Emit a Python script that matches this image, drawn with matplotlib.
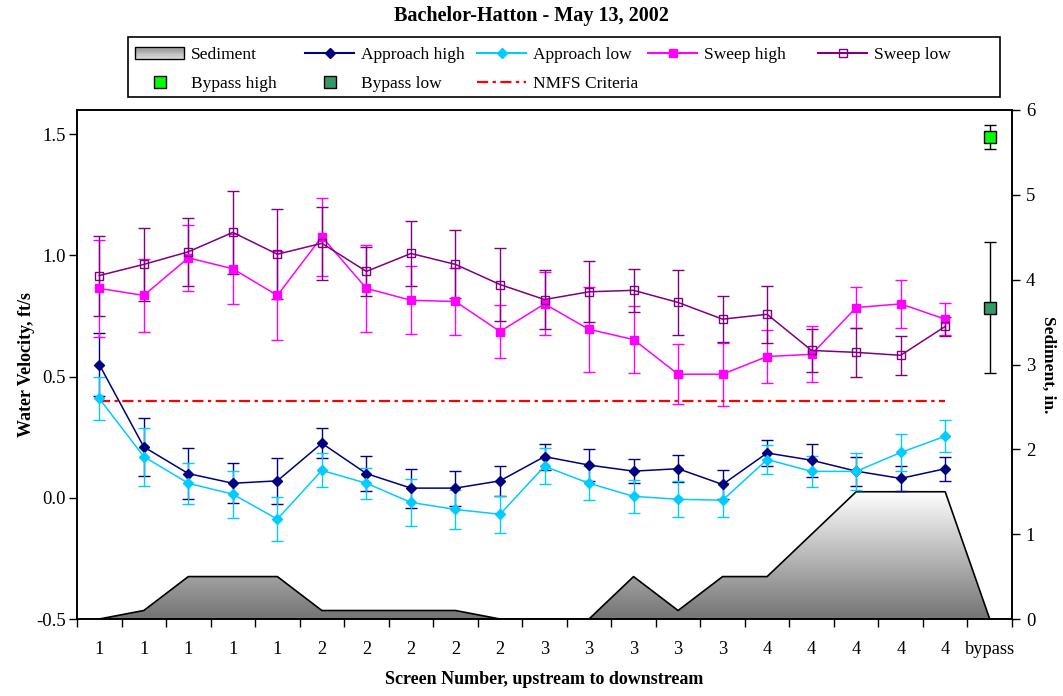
import numpy as np
import matplotlib.pyplot as plt
from matplotlib.lines import Line2D
from matplotlib.patches import Rectangle, Patch
from matplotlib.colors import LinearSegmentedColormap
from matplotlib.legend_handler import HandlerBase

plt.rcParams['font.family'] = ['Liberation Serif', 'DejaVu Serif']

# screens 1-20 plus bypass
screen_labels = ['1'] * 5 + ['2'] * 5 + ['3'] * 5 + ['4'] * 5 + ['bypass']

sediment = [0, 0.1, 0.5, 0.5, 0.5, 0.1, 0.1, 0.1, 0.1, 0, 0, 0, 0.5, 0.1, 0.5, 0.5, 1.0, 1.5, 1.5, 1.5, 0]

approach_high = [0.55, 0.21, 0.10, 0.06, 0.07, 0.225, 0.10, 0.04, 0.04, 0.07,
                 0.17, 0.135, 0.11, 0.12, 0.055, 0.185, 0.155, 0.11, 0.08, 0.12]
approach_high_err = [0.13, 0.12, 0.105, 0.083, 0.095, 0.062, 0.072, 0.08, 0.072, 0.062,
                     0.054, 0.066, 0.05, 0.055, 0.06, 0.055, 0.068, 0.06, 0.05, 0.05]

approach_low = [0.41, 0.17, 0.06, 0.015, -0.088, 0.113, 0.06, -0.019, -0.048, -0.068,
                0.13, 0.06, 0.006, -0.006, -0.01, 0.158, 0.109, 0.109, 0.187, 0.254]
approach_low_err = [0.09, 0.12, 0.085, 0.097, 0.09, 0.07, 0.065, 0.098, 0.08, 0.076,
                    0.075, 0.07, 0.068, 0.075, 0.07, 0.06, 0.065, 0.075, 0.075, 0.065]

sweep_high = [0.864, 0.835, 0.99, 0.945, 0.835, 1.077, 0.864, 0.815, 0.81, 0.686,
              0.80, 0.695, 0.653, 0.51, 0.51, 0.583, 0.592, 0.785, 0.80, 0.737]
sweep_high_err = [0.2, 0.15, 0.135, 0.145, 0.185, 0.16, 0.18, 0.14, 0.14, 0.108,
                  0.13, 0.175, 0.14, 0.125, 0.13, 0.11, 0.115, 0.085, 0.1, 0.065]

sweep_low = [0.917, 0.963, 1.015, 1.095, 1.005, 1.05, 0.934, 1.008, 0.963, 0.88,
             0.818, 0.85, 0.856, 0.806, 0.737, 0.757, 0.608, 0.6, 0.588, 0.707]
sweep_low_err = [0.165, 0.15, 0.14, 0.17, 0.185, 0.15, 0.1, 0.135, 0.14, 0.15,
                 0.12, 0.125, 0.09, 0.135, 0.095, 0.117, 0.09, 0.1, 0.08, 0.04]

bypass_high, bypass_high_err = 1.49, 0.05
bypass_low, bypass_low_err = 0.785, 0.27
nmfs = 0.4

x = np.arange(len(screen_labels))
xs = x[:-1]

fig = plt.figure(figsize=(10.63, 6.96), dpi=100)
ax_sed = fig.add_axes([77 / 1063, 77 / 696, 935 / 1063, 509 / 696])
ax = ax_sed.twinx()
# velocity on the left, sediment on the right
ax.yaxis.tick_left()
ax.yaxis.set_label_position('left')
ax_sed.yaxis.tick_right()
ax_sed.yaxis.set_label_position('right')

# sediment area with vertical gradient
gray_cmap = LinearSegmentedColormap.from_list('sed', ['#737373', '#ffffff'])
poly = ax_sed.fill_between(x, 0, sediment, facecolor='none', edgecolor='black', linewidth=1.2, zorder=2)
grad = np.linspace(0, 1, 256).reshape(-1, 1)
img = ax_sed.imshow(grad, cmap=gray_cmap, origin='lower', aspect='auto',
                    extent=(-0.5, 20.5, 0, max(sediment)), zorder=1)
img.set_clip_path(poly.get_paths()[0], transform=ax_sed.transData)
ax_sed.set_ylim(0, 6)
ax_sed.set_xlim(-0.5, len(x) - 0.5)

eb = dict(capsize=4, elinewidth=1, capthick=1, linewidth=1.1)
ax.errorbar(xs, approach_high, yerr=approach_high_err, color='#000080', marker='D', markersize=5.5, **eb)
ax.errorbar(xs, approach_low, yerr=approach_low_err, color='#00CCFF', marker='D', markersize=5.5, **eb)
ax.errorbar(xs, sweep_high, yerr=sweep_high_err, color='#FF00FF', marker='s', markersize=6, **eb)
ax.errorbar(xs, sweep_low, yerr=sweep_low_err, color='#800080', marker='s', markersize=6,
            markerfacecolor='none', **eb)
ax.plot(xs, [nmfs] * len(xs), color='red', linewidth=1.6, linestyle=(0, (5, 2, 1.5, 2)))
ax.errorbar([x[-1]], [bypass_high], yerr=[bypass_high_err], color='black', marker='s', markersize=9,
            markerfacecolor='#00FF00', markeredgecolor='black', capsize=4, elinewidth=1, capthick=1)
ax.errorbar([x[-1]], [bypass_low], yerr=[bypass_low_err], color='black', marker='s', markersize=9,
            markerfacecolor='#339966', markeredgecolor='black', capsize=4, elinewidth=1, capthick=1)

ax.set_ylim(-0.5, 1.6)
ax.set_yticks([-0.5, 0.0, 0.5, 1.0, 1.5])
ax.set_yticklabels(['-0.5', '0.0', '0.5', '1.0', '1.5'])
ax_sed.set_yticks(range(7))

ax_sed.set_xticks(np.arange(-0.5, len(x)), labels=[])
ax_sed.set_xticks(x, labels=screen_labels, minor=True)
ax_sed.tick_params(axis='x', which='major', length=6, direction='out', width=1)
ax_sed.tick_params(axis='x', which='minor', length=0, pad=16, labelsize=13.2)
ax_sed.tick_params(axis='y', length=6, width=1, labelsize=13.5, pad=4)
ax.tick_params(axis='y', length=6, width=1, labelsize=13.5, pad=2)
for a in (ax, ax_sed):
    for s in a.spines.values():
        s.set_linewidth(1.2)

ax.set_ylabel('Water Velocity, ft/s', fontsize=13, fontweight='bold', labelpad=1)
ax_sed.set_ylabel('Sediment, in.', fontsize=12.5, fontweight='bold', rotation=270, labelpad=15)
ax_sed.set_xlabel('Screen Number, upstream to downstream', fontsize=13, fontweight='bold', labelpad=9)
fig.suptitle('Bachelor-Hatton - May 13, 2002', fontsize=14.5, fontweight='bold', y=1 - 6 / 696, va='top')


class GradientHandler(HandlerBase):
    def create_artists(self, legend, orig_handle, xdescent, ydescent, width, height, fontsize, trans):
        parts = []
        n = 10
        for i in range(n):
            c = gray_cmap(0.35 + 0.6 * abs(i - n * 0.7) / n)
            parts.append(Rectangle((-xdescent, -ydescent + i * height / n), width, height / n,
                                   facecolor=c, edgecolor='none', transform=trans))
        parts.append(Rectangle((-xdescent, -ydescent), width, height, fill=False,
                               edgecolor='black', linewidth=1, transform=trans))
        return parts


sed_handle = Patch(label='Sediment')
h_ah = Line2D([], [], color='#000080', marker='D', markersize=5)
h_al = Line2D([], [], color='#00CCFF', marker='D', markersize=5)
h_sh = Line2D([], [], color='#FF00FF', marker='s', markersize=6)
h_sl = Line2D([], [], color='#800080', marker='s', markersize=6, markerfacecolor='none')
h_bh = Line2D([], [], linestyle='none', marker='s', markersize=8, markerfacecolor='#00FF00', markeredgecolor='black')
h_bl = Line2D([], [], linestyle='none', marker='s', markersize=8, markerfacecolor='#339966', markeredgecolor='black')
h_nm = Line2D([], [], color='red', linewidth=1.6, linestyle=(0, (5, 2, 1.5, 2)))

columns = [
    ([sed_handle, h_bh], ['Sediment', 'Bypass high'], 135),
    ([h_ah, h_bl], ['Approach high', 'Bypass low'], 305),
    ([h_al, h_nm], ['Approach low', 'NMFS Criteria'], 477),
    ([h_sh], ['Sweep high'], 648),
    ([h_sl], ['Sweep low'], 818),
]
for handles, labels, px in columns:
    fig.legend(handles, labels, loc='upper left', bbox_to_anchor=(px / 1063, 1 - 47 / 696),
               frameon=False, borderpad=0, borderaxespad=0, handlelength=2.85, handletextpad=0.35,
               labelspacing=0.75, fontsize=12.5, handler_map={Patch: GradientHandler()})

fig.patches.append(Rectangle((128 / 1063, 1 - 97 / 696), 872 / 1063, 60 / 696, transform=fig.transFigure,
                             fill=False, edgecolor='black', linewidth=1.2))

fig.savefig('out.png', dpi=100)
